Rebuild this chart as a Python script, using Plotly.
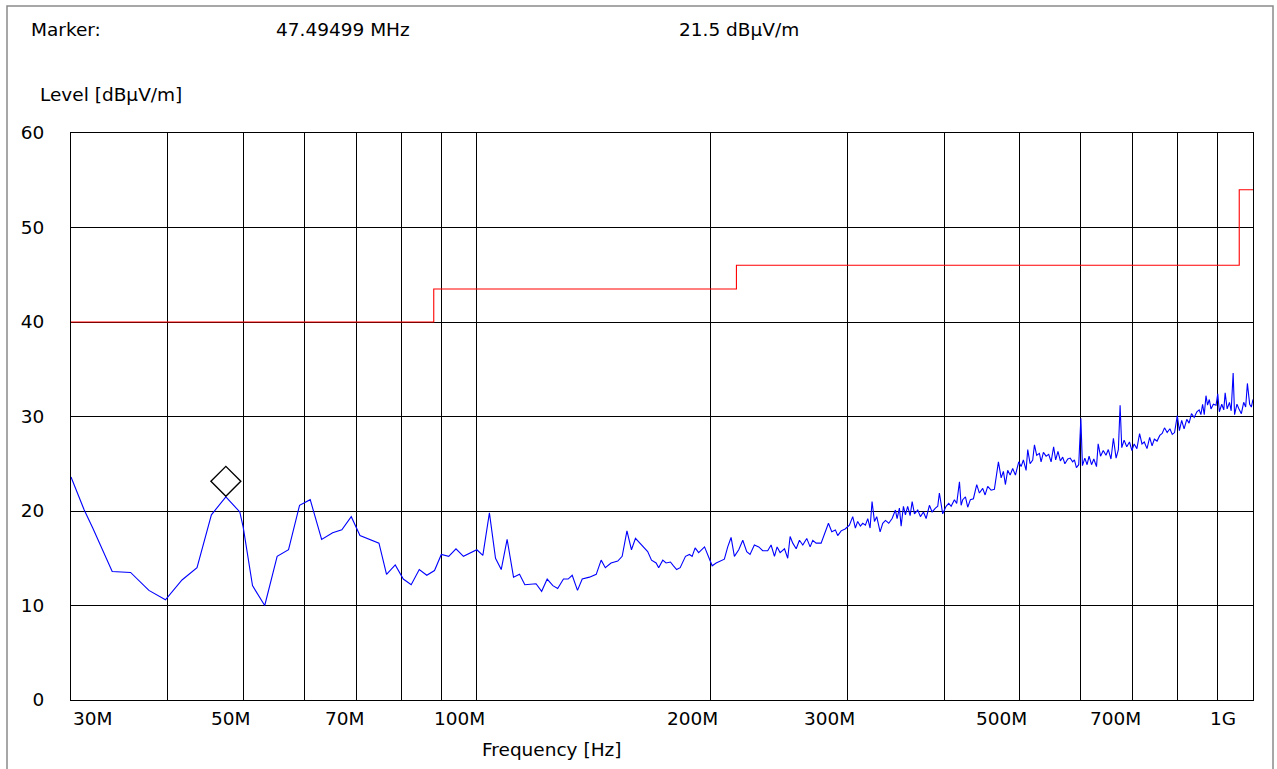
import math
import plotly.graph_objects as go

# ---------------- data ----------------
freq_mhz = [
    30.0, 31.2, 32.0, 33.9, 35.8, 37.8, 39.7, 41.7, 43.6, 45.5,
    47.49499, 49.5, 50.0, 51.4, 53.3, 55.3, 57.2, 59.1, 61.0, 63.1,
    65.2, 67.0, 68.9, 70.7, 74.8, 76.5, 78.5, 80.4, 82.3, 84.3,
    86.2, 88.2, 90.0, 92.0, 94.0, 96.1, 100.0, 101.8, 103.8, 105.7,
    107.5, 109.4, 111.5, 113.5, 115.3, 119.2, 121.2, 123.2, 125.3, 127.1,
    129.3, 131.1, 132.7, 134.8, 136.7, 139.7, 142.5, 144.6, 146.4, 148.9,
    151.9, 153.9, 156.1, 158.2, 160.1, 162.8, 166.0, 167.9, 170.2, 171.5,
    173.6, 175.3, 177.6, 179.2, 180.9, 182.8, 185.7, 187.9, 189.4, 191.1,
    193.1, 196.5, 199.4, 201.0, 203.4, 208.4, 210.5, 212.6, 214.7, 217.5,
    220.1, 222.7, 224.9, 227.8, 230.8, 233.5, 237.0, 239.4, 241.8, 243.7,
    245.9, 249.1, 251.5, 253.3, 255.3, 257.9, 260.4, 263.0, 266.1, 268.8,
    270.9, 273.6, 277.7, 280.4, 283.8, 286.6, 289.7, 291.7, 294.7, 298.2,
    302.0, 305.0, 307.4, 309.5, 312.0, 314.2, 316.7, 318.9, 321.1, 323.0,
    325.3, 327.5, 330.8, 333.4, 336.1, 339.4, 342.8, 346.2, 347.9, 350.3,
    352.1, 354.5, 356.6, 359.0, 361.6, 363.8, 366.3, 369.9, 372.8, 376.2,
    379.2, 382.9, 386.0, 389.8, 392.5, 394.4, 398.3, 402.3, 405.5, 408.4,
    412.4, 415.2, 418.6, 420.7, 422.7, 426.1, 429.0, 432.4, 436.3, 440.6,
    444.1, 448.5, 451.7, 455.2, 459.8, 464.3, 466.7, 469.9, 473.7, 476.9,
    479.7, 483.0, 486.5, 490.2, 494.2, 499.1, 502.6, 506.0, 510.1, 512.6,
    516.2, 520.2, 522.9, 526.4, 530.7, 533.3, 537.0, 541.3, 545.5, 549.4,
    553.5, 556.9, 560.7, 564.7, 568.6, 572.3, 577.3, 581.4, 585.7, 588.7,
    592.2, 596.3, 600.1, 602.9, 607.2, 611.3, 614.9, 619.4, 623.6, 628.6,
    631.7, 636.2, 641.3, 646.5, 651.0, 656.2, 660.9, 666.2, 670.7, 674.2,
    677.5, 682.2, 687.6, 693.2, 698.2, 702.9, 708.6, 714.3, 719.4, 724.3,
    730.2, 736.0, 741.3, 746.3, 752.3, 758.4, 763.8, 769.1, 775.2, 781.5,
    787.0, 792.4, 798.8, 803.8, 809.3, 815.1, 821.6, 827.3, 833.2, 839.9,
    846.6, 852.4, 856.8, 861.1, 865.4, 869.8, 873.9, 878.4, 882.8, 889.1,
    896.2, 900.7, 905.0, 911.5, 916.9, 920.7, 926.2, 932.6, 937.3, 942.8,
    946.8, 953.5, 959.3, 966.1, 972.7, 978.5, 983.5, 990.2, 995.1, 1000.0,
]
level_dbuv = [
    23.6, 20.1, 18.2, 13.6, 13.5, 11.6, 10.6, 12.7, 14.0, 19.6,
    21.5, 19.9, 18.3, 12.1, 10.0, 15.2, 15.9, 20.6, 21.2, 17.0,
    17.7, 18.0, 19.4, 17.4, 16.6, 13.3, 14.3, 12.8, 12.2, 13.8,
    13.2, 13.7, 15.4, 15.2, 16.0, 15.2, 15.9, 15.3, 19.8, 15.0,
    13.8, 17.0, 13.0, 13.3, 12.2, 12.3, 11.5, 12.8, 12.1, 11.8,
    12.8, 12.8, 13.2, 11.6, 12.8, 13.0, 13.3, 14.8, 14.0, 14.5,
    14.7, 15.2, 17.9, 15.9, 17.1, 16.5, 15.7, 14.8, 14.5, 14.0,
    14.8, 14.5, 14.6, 14.2, 13.8, 14.0, 15.2, 15.4, 15.2, 16.1,
    15.6, 16.2, 14.8, 14.2, 14.5, 14.9, 16.2, 17.2, 15.2, 15.9,
    16.9, 15.7, 15.4, 16.4, 16.2, 15.8, 15.8, 16.4, 15.2, 16.2,
    15.6, 16.0, 15.0, 17.3, 16.6, 16.0, 16.9, 16.4, 17.1, 16.2,
    16.9, 16.6, 16.6, 17.6, 18.7, 17.8, 18.0, 17.4, 17.9, 18.1,
    18.5, 19.4, 18.2, 18.9, 18.4, 18.7, 18.5, 19.2, 18.2, 21.0,
    18.9, 19.4, 17.8, 18.7, 19.0, 18.7, 19.2, 20.1, 19.2, 20.3,
    18.4, 20.5, 19.6, 20.5, 19.5, 21.0, 19.7, 20.1, 19.4, 19.9,
    19.2, 20.6, 19.9, 20.3, 20.5, 21.9, 19.7, 20.5, 20.8, 20.5,
    21.2, 20.8, 23.1, 20.6, 21.2, 21.5, 20.4, 21.2, 21.3, 22.8,
    21.9, 22.4, 21.7, 22.6, 22.2, 22.3, 23.5, 25.2, 23.5, 24.2,
    22.8, 24.3, 23.8, 24.5, 23.8, 25.2, 24.7, 25.4, 24.3, 26.5,
    25.0, 25.4, 27.0, 25.9, 26.1, 25.2, 26.2, 25.8, 26.0, 25.2,
    26.8, 25.4, 26.3, 25.3, 25.7, 25.0, 25.5, 25.6, 25.2, 25.4,
    24.6, 24.9, 29.8, 24.8, 25.6, 24.9, 25.8, 24.9, 25.5, 24.7,
    27.1, 25.8, 26.4, 25.9, 26.5, 25.5, 27.7, 25.6, 26.5, 31.2,
    26.7, 27.5, 26.8, 27.3, 26.4, 27.1, 26.6, 28.2, 27.1, 27.3,
    26.6, 27.8, 26.9, 27.6, 27.4, 28.0, 28.2, 28.8, 28.3, 28.7,
    28.1, 28.3, 30.1, 28.5, 29.6, 28.7, 29.7, 29.3, 30.3, 29.9,
    30.5, 30.7, 30.2, 31.3, 30.2, 32.2, 31.2, 31.8, 30.8, 31.3,
    31.2, 32.4, 30.5, 31.3, 30.7, 32.5, 30.8, 31.5, 30.6, 34.6,
    30.2, 31.3, 30.8, 30.3, 31.5, 31.0, 33.5, 31.3, 31.0, 31.8,
]

limit_freq_mhz = [30, 88, 216, 960, 1000]
limit_dbuv = [40, 43.5, 46, 54, 54]

marker_freq_mhz = 47.49499
marker_level_dbuv = 21.5
marker_freq_text = "47.49499 MHz"
marker_level_text = "21.5 dBµV/m"

x_label_vals = [30, 50, 70, 100, 200, 300, 500, 700, 1000]
x_label_text = ["30M", "50M", "70M", "100M", "200M", "300M", "500M", "700M", "1G"]
x_grid_vals = [40, 50, 60, 70, 80, 90, 100, 200, 300, 400, 500, 600, 700, 800, 900]
y_tick_vals = [0, 10, 20, 30, 40, 50, 60]

# ---------------- layout geometry ----------------
W, H = 1277, 769
L, R, T, B = 71, 24, 133, 69
PW, PH = W - L - R, H - T - B
FONT = "DejaVu Sans"
FS = 18.5


def px_x(p):
    return (p - L) / PW


def px_y(p):
    return (H - B - p) / PH


fig = go.Figure()

fig.add_trace(go.Scatter(
    x=limit_freq_mhz, y=limit_dbuv, mode="lines", line_shape="hv",
    line=dict(color="#ff0000", width=1.1), hoverinfo="skip", showlegend=False,
))
fig.add_trace(go.Scatter(
    x=freq_mhz, y=level_dbuv, mode="lines",
    line=dict(color="#0000ff", width=1.1), showlegend=False,
))
# marker diamond drawn just above the marked point
diamond_offset_db = 15.5 / (PH / 60.0)
fig.add_trace(go.Scatter(
    x=[marker_freq_mhz], y=[marker_level_dbuv + diamond_offset_db], mode="markers",
    marker=dict(symbol="diamond-open", size=23, color="black", line=dict(width=1.4, color="black")),
    showlegend=False, hoverinfo="skip",
))

annotations = []
# x tick labels
for i, (v, t) in enumerate(zip(x_label_vals, x_label_text)):
    if i == 0:
        anchor, shift = "left", 0
    elif i == len(x_label_vals) - 1:
        anchor, shift = "right", -15
    else:
        anchor, shift = "right", 10
    annotations.append(dict(
        x=math.log10(v), xref="x", y=0, yref="paper", yanchor="middle", yshift=-18,
        xanchor=anchor, xshift=shift, text=t, showarrow=False,
        font=dict(family=FONT, size=FS, color="black"),
    ))

header = [
    ("Marker:", 29, 30),
    (marker_freq_text, 274, 30),
    (marker_level_text, 677, 30),
    ("Level [dBµV/m]", 38, 95),
]
for t, xp, yp in header:
    annotations.append(dict(
        x=px_x(xp), xref="paper", y=px_y(yp), yref="paper", xanchor="left", yanchor="middle",
        text=t, showarrow=False, font=dict(family=FONT, size=FS, color="black"),
    ))
annotations.append(dict(
    x=px_x(552), xref="paper", y=px_y(749), yref="paper", xanchor="center", yanchor="middle",
    text="Frequency [Hz]", showarrow=False, font=dict(family=FONT, size=FS, color="black"),
))

shapes = [dict(
    type="rect", xref="paper", yref="paper",
    x0=px_x(7), x1=px_x(1273), y0=px_y(790), y1=px_y(6),
    line=dict(color="#8a8a8a", width=1.5), fillcolor="rgba(0,0,0,0)", layer="below",
)]

fig.update_layout(
    width=W, height=H,
    margin=dict(l=L, r=R, t=T, b=B, pad=0),
    paper_bgcolor="white", plot_bgcolor="white",
    showlegend=False,
    annotations=annotations,
    shapes=shapes,
    font=dict(family=FONT, size=FS, color="black"),
)
fig.update_xaxes(
    type="log", range=[math.log10(30), math.log10(1000)],
    tickmode="array", tickvals=x_grid_vals, ticktext=[""] * len(x_grid_vals),
    showgrid=True, gridcolor="black", gridwidth=1,
    showline=True, linecolor="black", linewidth=1, mirror=True,
    ticks="", zeroline=False,
)
fig.update_yaxes(
    range=[0, 60], tickmode="array", tickvals=y_tick_vals,
    ticktext=[str(v) for v in y_tick_vals],
    showgrid=True, gridcolor="black", gridwidth=1,
    showline=True, linecolor="black", linewidth=1, mirror=True,
    ticks="", zeroline=False, ticklabelstandoff=22,
    tickfont=dict(family=FONT, size=FS, color="black"),
)

# remove the default page margin so the figure sits at the window origin
fig.write_html(
    "out.html",
    config={"displayModeBar": False},
    post_script="document.body.style.margin='0';",
)
